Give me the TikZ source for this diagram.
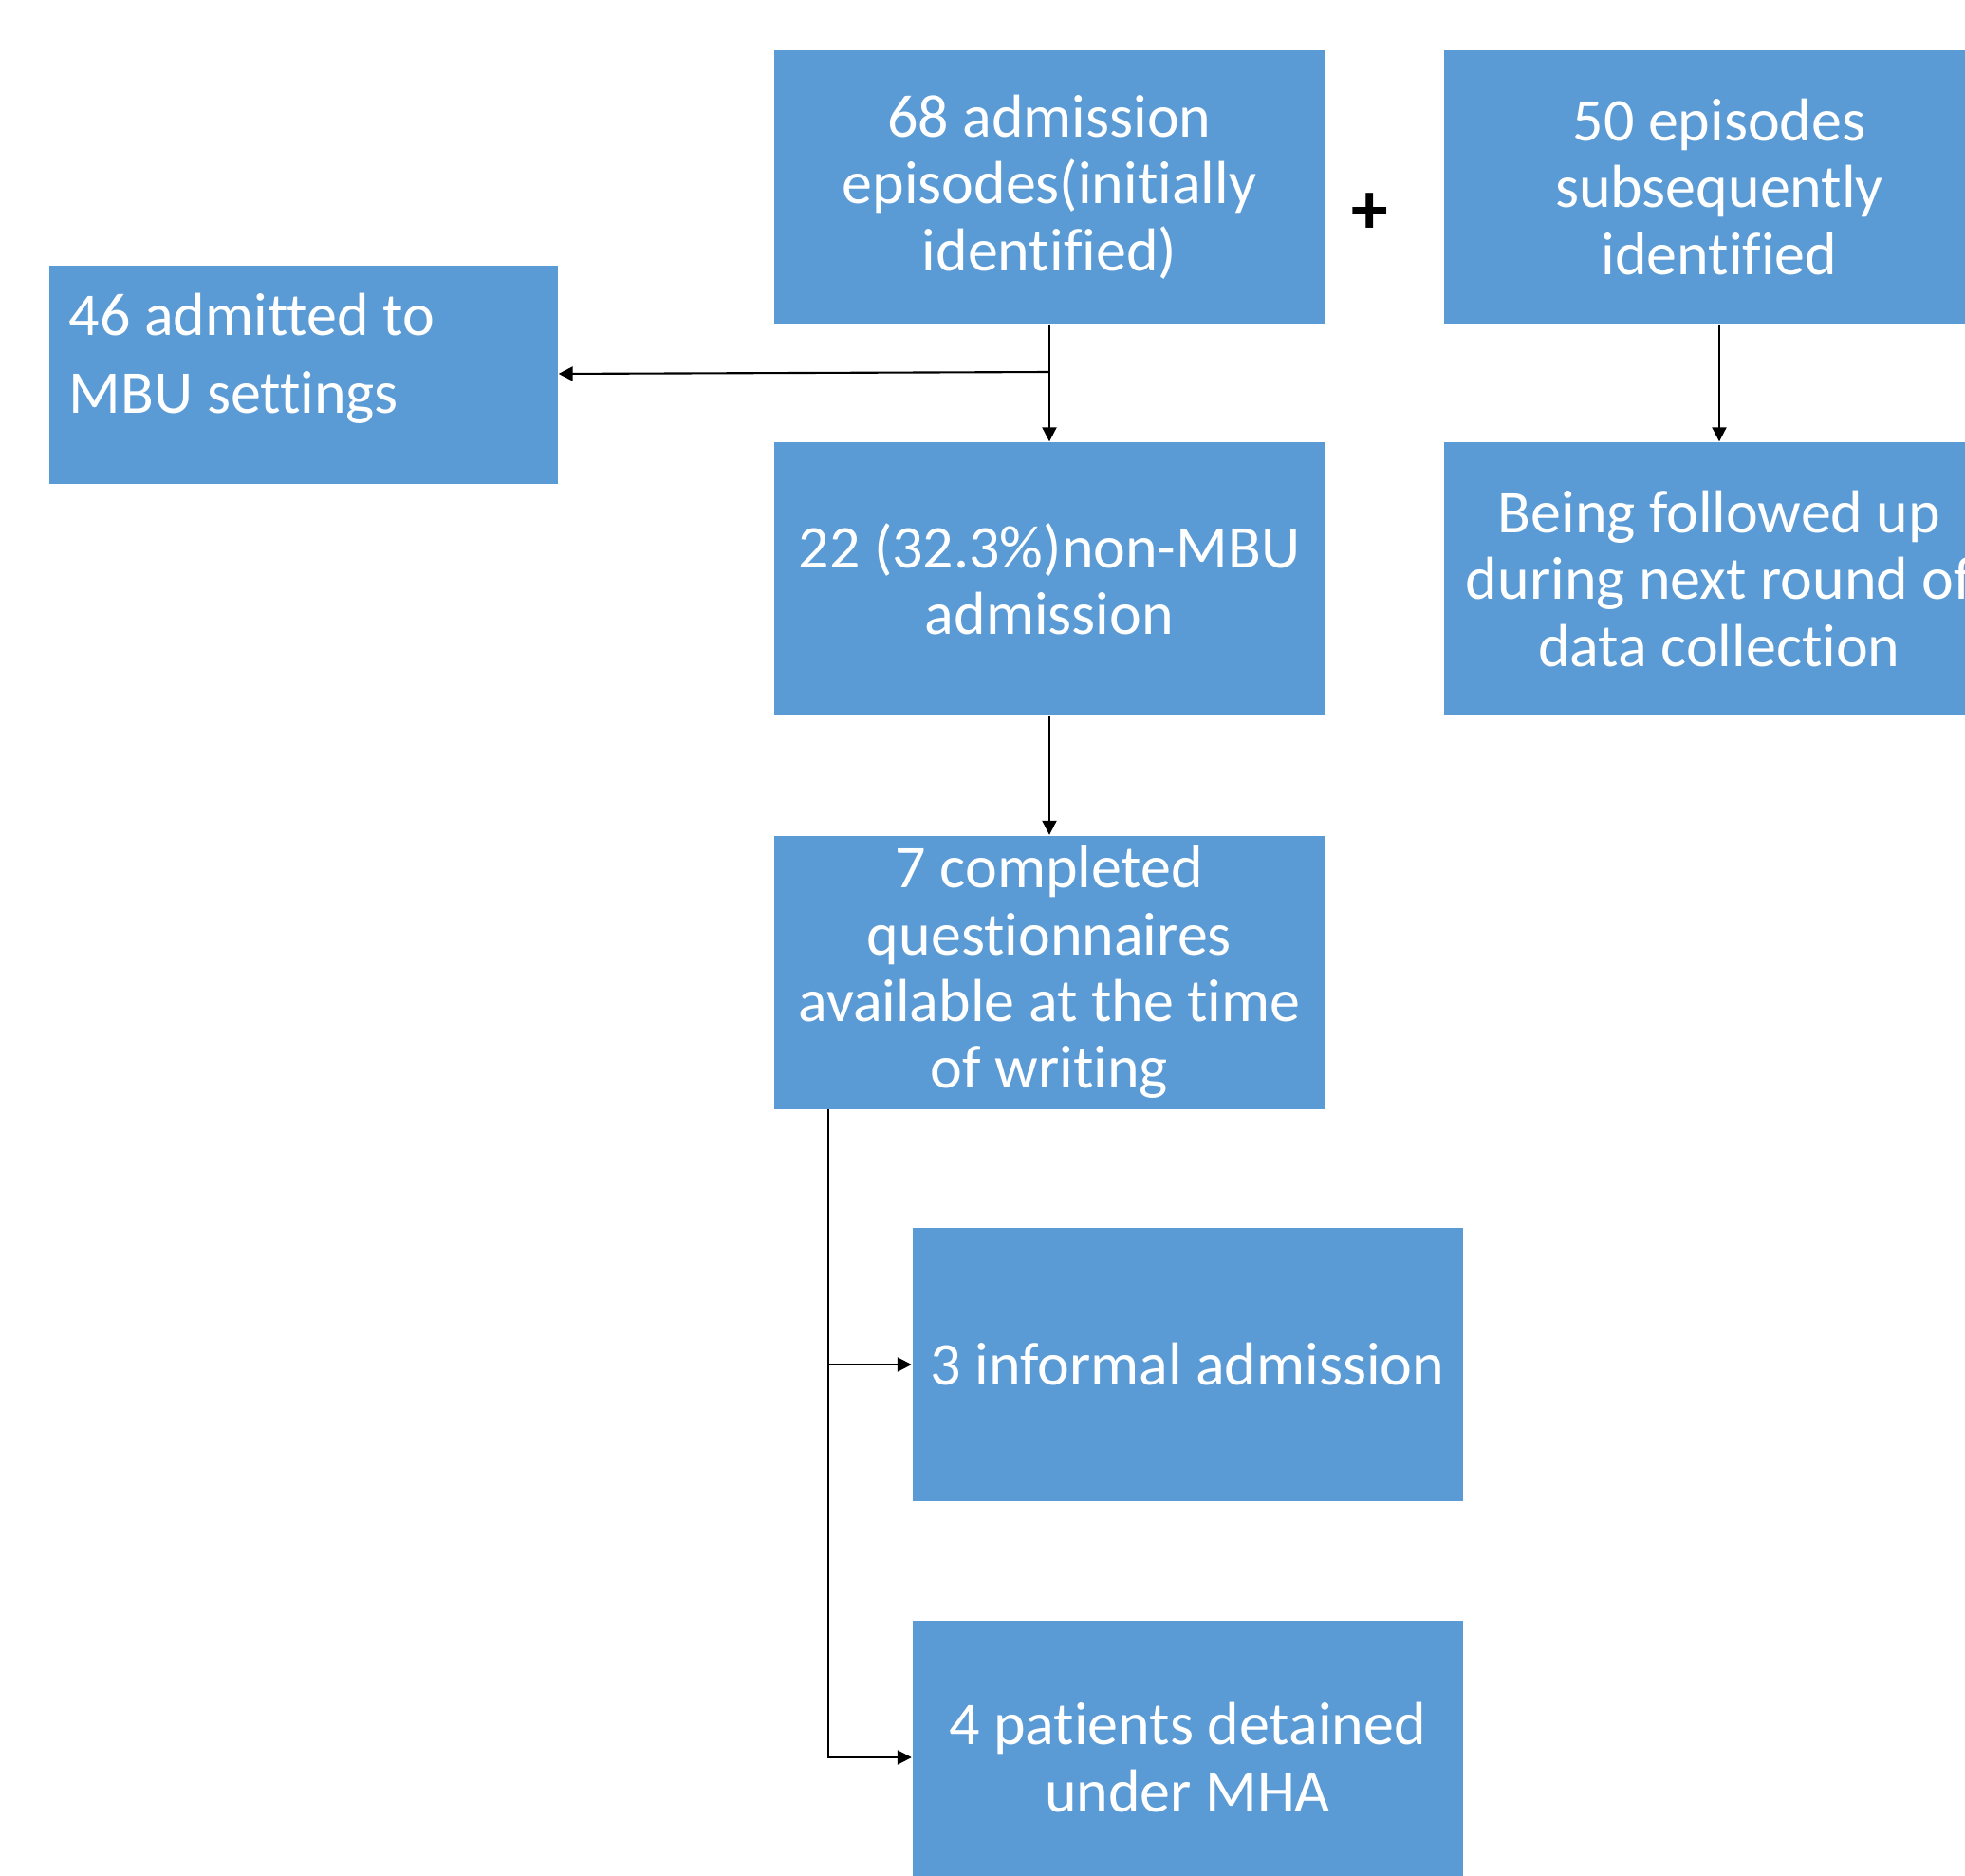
\documentclass[tikz,border=0pt]{standalone}
\usepackage{fontspec}
\setmainfont[Ligatures={NoCommon}]{Carlito}
\usetikzlibrary{arrows.meta,positioning}
\definecolor{boxblue}{HTML}{5B9BD5}
\tikzset{format/.style={rectangle,fill=boxblue,text=white,minimum width=5.8cm,minimum height=2.88cm,inner sep=0pt,align=center,font=\fontsize{18.2}{20}\selectfont}}
\tikzset{point/.style={coordinate,on grid}}
\tikzset{link/.style={line width=0.6pt,-{Triangle[length=1.5mm,width=1.5mm]}}}

\begin{document}
\begin{tikzpicture}
  \clip (0,0) rectangle (20.71,-19.77);
  %top row
  \node[format] (initial) at (11.06,-1.97){68 admission\\episodes(initially\\identified)};
  \node[format,right of=initial,node distance=70.6mm] (later){50 episodes\\subsequently\\identified};
  \node[font=\fontsize{22}{24}\selectfont\bfseries] (plus) at (14.44,-2.25){+};
  \node[format,minimum width=5.36cm,minimum height=2.30cm,text width=4.94cm,align=flush left,text depth=1.28cm,font=\fontsize{18.2}{23.3}\selectfont] (mbu) at (3.20,-3.95){46 admitted to\\MBU settings};
  %middle
  \node[format,below of=initial,node distance=41.3mm] (nonMBU){22 (32.3\%)non-MBU\\admission};
  \node[format,below of=later,node distance=41.3mm] (followup){Being followed up\\during next round of\\data collection};
  \node[format,below of=nonMBU,node distance=41.45mm] (completed){7 completed\\questionnaires\\available at the time\\of writing};
  %bottom
  \node[format] (informal) at (12.515,-14.38){3 informal admission};
  \node[format,below of=informal,node distance=41.4mm] (detained){4 patients detained\\under MHA};
  \node[point,below of=initial,node distance=19.5mm] (split){};
  \node[point] (fork) at (8.73,-11.69){};
  \draw[link] (initial)--(nonMBU);
  \draw[link] (split)--(mbu);
  \draw[link] (later)--(followup);
  \draw[link] (nonMBU)--(completed);
  \draw[link] (fork)|-(informal);
  \draw[link] (fork)|-(detained);
\end{tikzpicture}
\end{document}
